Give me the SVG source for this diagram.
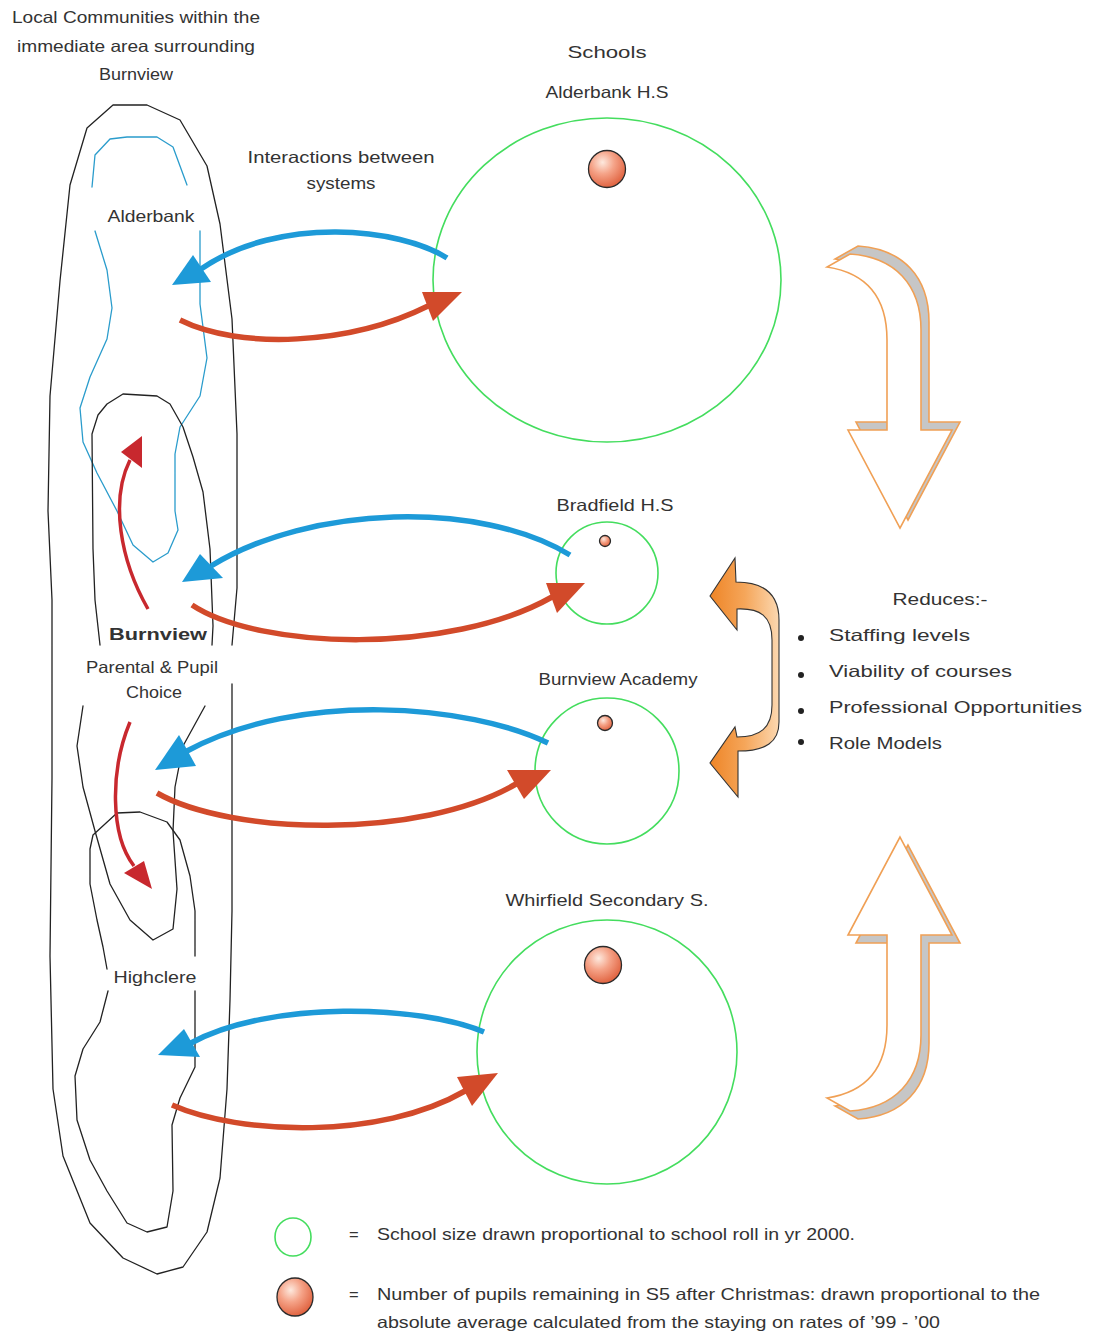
<svg xmlns="http://www.w3.org/2000/svg" width="1093" height="1334" viewBox="0 0 1093 1334">
  <defs>
    <style>
      text { font-family: "Liberation Sans", "DejaVu Sans", sans-serif; fill: #333; font-size: 16.5px; }
      .mid { text-anchor: middle; }
      .outline { fill: none; stroke: #222; stroke-width: 1.3; stroke-linejoin: round; stroke-linecap: round; }
      .blueline { fill: none; stroke: #2a9ccc; stroke-width: 1.3; stroke-linejoin: round; stroke-linecap: round; }
      .school { fill: none; stroke: #44dd5e; stroke-width: 1.6; }
      .ball { fill: url(#ballGrad); stroke: #2a2a2a; stroke-width: 1.3; }
      .toComm { fill: none; stroke: #1d9ad8; stroke-width: 5.5; }
      .toComm-head { fill: #1d9ad8; }
      .toSchool { fill: none; stroke: #d24a2a; stroke-width: 5.5; }
      .toSchool-head { fill: #d24a2a; }
      .choice { fill: none; stroke: #c8282e; stroke-width: 3.5; }
      .choice-head { fill: #c8282e; }
      .effect-front { fill: #fff; stroke: #f0a055; stroke-width: 1.6; stroke-linejoin: miter; }
      .effect-shadow { fill: #c6c6c6; stroke: #f0a055; stroke-width: 1.6; }
      .swap { fill: url(#swapGrad); stroke: #333; stroke-width: 1.1; }
      .bullet { fill: #222; }
    </style>
    <radialGradient id="ballGrad" cx="0.38" cy="0.32" r="0.7">
      <stop offset="0" stop-color="#fde9de"/>
      <stop offset="0.45" stop-color="#f5a388"/>
      <stop offset="1" stop-color="#e0623f"/>
    </radialGradient>
    <linearGradient id="swapGrad" gradientUnits="userSpaceOnUse" x1="708" y1="0" x2="782" y2="0">
      <stop offset="0" stop-color="#ee8324"/>
      <stop offset="0.5" stop-color="#f5a65a"/>
      <stop offset="1" stop-color="#fcdcb8"/>
    </linearGradient>
    <!-- curved effect arrow, drawn pointing up; the downward one reuses it mirrored -->
    <path id="effectShape" d="M900,837 L952,935 L921,935 L921,1035 C921,1080 895,1108 850,1111 L827,1098 C866,1092 887,1068 887,1025 L887,935 L848,935 Z"/>
  </defs>

  <rect width="1093" height="1334" fill="#fff"/>

  <!-- Community boundaries -->
  <g id="community-area">
    <text class="mid" x="136" y="23" textLength="248" lengthAdjust="spacingAndGlyphs">Local Communities within the</text>
    <text class="mid" x="136" y="52" textLength="238" lengthAdjust="spacingAndGlyphs">immediate area surrounding</text>
    <text class="mid" x="136" y="80" textLength="74" lengthAdjust="spacingAndGlyphs">Burnview</text>
    <polyline class="outline" points="232,684 232,733 232,911 230,1000 227,1089 220,1178 207,1232 183,1267 157,1274 123,1258 90,1223 63,1156 53,1089 50,956 52,778 52,600 48,511 50,396 60,281 70,185 87,128 113,105 147,105 180,120 207,166 220,224 232,319 237,434 237,588 232,645"/>
  </g>

  <g id="alderbank">
    <polyline class="blueline" points="92,187 95,155 110,139 127,137 157,137 173,147 187,185"/>
    <polyline class="blueline" points="95,231 107,270 112,308 107,339 90,377 80,408 83,442 97,473 117,511 133,545 153,562 168,553 178,530 175,511 175,454 180,427 200,396 207,358 200,304 200,231"/>
    <text class="mid" x="151" y="222" font-size="15.5" textLength="87" lengthAdjust="spacingAndGlyphs">Alderbank</text>
  </g>

  <g id="burnview">
    <polyline class="outline" points="100,645 95,600 93,549 92,434 98,415 107,404 123,394 157,396 170,404 183,427 193,457 203,492 210,549 213,626 212,645"/>
    <polyline class="outline" points="83,706 77,746 83,787 95,831 110,884 130,920 153,940 173,929 177,889 173,831 175,787 183,746 205,706"/>
    <text class="mid" x="158" y="640" font-size="17.5" font-weight="bold" textLength="98" lengthAdjust="spacingAndGlyphs">Burnview</text>
    <text class="mid" x="152" y="673" textLength="132" lengthAdjust="spacingAndGlyphs">Parental &amp; Pupil</text>
    <text class="mid" x="154" y="698" textLength="56" lengthAdjust="spacingAndGlyphs">Choice</text>
  </g>

  <g id="highclere">
    <polyline class="outline" points="107,969 103,947 97,920 90,884 90,849 93,835 117,813 140,812 167,822 180,840 190,876 195,911 195,956"/>
    <polyline class="outline" points="108,991 100,1022 83,1049 75,1076 77,1120 90,1160 107,1191 127,1223 147,1232 167,1227 173,1191 172,1125 180,1098 195,1067 195,991"/>
    <text class="mid" x="155" y="983" textLength="83" lengthAdjust="spacingAndGlyphs">Highclere</text>
  </g>

  <!-- Schools, sized by roll -->
  <g id="schools-title">
    <text class="mid" x="607" y="58" font-size="20.5" textLength="79" lengthAdjust="spacingAndGlyphs">Schools</text>
  </g>

  <g id="alderbank-hs">
    <text class="mid" x="607" y="98" textLength="123" lengthAdjust="spacingAndGlyphs">Alderbank H.S</text>
    <ellipse class="school" cx="607" cy="280" rx="174" ry="162"/>
    <circle class="ball" cx="607" cy="169" r="18.5"/>
  </g>

  <g id="bradfield-hs">
    <text class="mid" x="615" y="511" textLength="117" lengthAdjust="spacingAndGlyphs">Bradfield H.S</text>
    <circle class="school" cx="607" cy="573" r="51"/>
    <circle class="ball" cx="605" cy="541" r="5.5"/>
  </g>

  <g id="burnview-academy">
    <text class="mid" x="618" y="685" textLength="159" lengthAdjust="spacingAndGlyphs">Burnview Academy</text>
    <ellipse class="school" cx="607" cy="771" rx="72" ry="73"/>
    <circle class="ball" cx="605" cy="723" r="7.5"/>
  </g>

  <g id="whirfield-ss">
    <text class="mid" x="607" y="906" textLength="203" lengthAdjust="spacingAndGlyphs">Whirfield Secondary S.</text>
    <ellipse class="school" cx="607" cy="1052" rx="130" ry="132"/>
    <circle class="ball" cx="603" cy="965" r="18.5"/>
  </g>

  <g id="interactions-label">
    <text class="mid" x="341" y="163" textLength="187" lengthAdjust="spacingAndGlyphs">Interactions between</text>
    <text class="mid" x="341" y="189" textLength="69" lengthAdjust="spacingAndGlyphs">systems</text>
  </g>

  <!-- Connectors between communities and schools -->
  <g id="connectors">
    <!-- Alderbank -->
    <path class="toComm" d="M447,258 C400,228 280,215 201,269"/>
    <polygon class="toComm-head" points="172,285 193,255 211,282"/>
    <path class="toSchool" d="M180,320 C240,350 350,345 428,306"/>
    <polygon class="toSchool-head" points="462,292 422,292 433,321"/>
    <!-- Bradfield -->
    <path class="toComm" d="M570,555 C480,500 310,505 211,566"/>
    <polygon class="toComm-head" points="182,582 200,554 223,578"/>
    <path class="toSchool" d="M192,605 C260,650 450,655 552,597"/>
    <polygon class="toSchool-head" points="585,583 546,583 557,613"/>
    <!-- Burnview Academy -->
    <path class="toComm" d="M548,743 C470,705 300,690 187,751"/>
    <polygon class="toComm-head" points="155,770 179,735 196,766"/>
    <path class="toSchool" d="M157,793 C230,835 420,840 516,784"/>
    <polygon class="toSchool-head" points="551,770 507,770 524,799"/>
    <!-- Whirfield -->
    <path class="toComm" d="M484,1032 C420,1005 270,1000 191,1043"/>
    <polygon class="toComm-head" points="158,1055 184,1029 200,1057"/>
    <path class="toSchool" d="M172,1105 C240,1135 380,1140 465,1091"/>
    <polygon class="toSchool-head" points="498,1073 457,1077 472,1106"/>
    <!-- Parental and pupil choice within Burnview -->
    <path class="choice" d="M148,609 C120,560 110,500 130,460"/>
    <polygon class="choice-head" points="142,436 121,452 142,468"/>
    <path class="choice" d="M130,722 C110,770 110,835 134,866"/>
    <polygon class="choice-head" points="152,889 124,873 144,861"/>
  </g>

  <!-- Effect arrows -->
  <g id="effect-down" transform="translate(0,1365) scale(1,-1)">
    <use href="#effectShape" class="effect-shadow" transform="translate(8,8)"/>
    <use href="#effectShape" class="effect-front"/>
  </g>

  <g id="effect-up">
    <use href="#effectShape" class="effect-shadow" transform="translate(8,8)"/>
    <use href="#effectShape" class="effect-front"/>
  </g>

  <g id="effect-swap">
    <path class="swap" d="M710,596 L735,558 L736,582 C762,582 779,592 779,620 L779,722 C779,742 766,751 738,751 L738,797 L710,763 L735,727 L737,737 C760,737 772,728 772,705 L772,640 C772,616 760,608 737,609 L737,630 Z"/>
  </g>

  <g id="reduces">
    <text class="mid" x="940" y="605" textLength="95" lengthAdjust="spacingAndGlyphs">Reduces:-</text>
    <circle class="bullet" cx="801" cy="638" r="3"/>
    <circle class="bullet" cx="801" cy="675" r="3"/>
    <circle class="bullet" cx="801" cy="711" r="3"/>
    <circle class="bullet" cx="801" cy="742" r="3"/>
    <text x="829" y="641" font-size="17.5" textLength="141" lengthAdjust="spacingAndGlyphs">Staffing levels</text>
    <text x="829" y="677" font-size="17.5" textLength="183" lengthAdjust="spacingAndGlyphs">Viability of courses</text>
    <text x="829" y="713" font-size="17.5" textLength="253" lengthAdjust="spacingAndGlyphs">Professional Opportunities</text>
    <text x="829" y="749" font-size="17.5" textLength="113" lengthAdjust="spacingAndGlyphs">Role Models</text>
  </g>

  <!-- Key -->
  <g id="legend">
    <ellipse class="school" cx="293" cy="1237" rx="18" ry="19"/>
    <text x="349" y="1240">=</text>
    <text x="377" y="1240" textLength="478" lengthAdjust="spacingAndGlyphs">School size drawn proportional to school roll in yr 2000.</text>
    <ellipse class="ball" cx="295" cy="1297" rx="18" ry="19"/>
    <text x="349" y="1300">=</text>
    <text x="377" y="1300" textLength="663" lengthAdjust="spacingAndGlyphs">Number of pupils remaining in S5 after Christmas:  drawn proportional to the</text>
    <text x="377" y="1328" textLength="563" lengthAdjust="spacingAndGlyphs">absolute average calculated from the staying on rates of ’99 - ’00</text>
  </g>
</svg>
